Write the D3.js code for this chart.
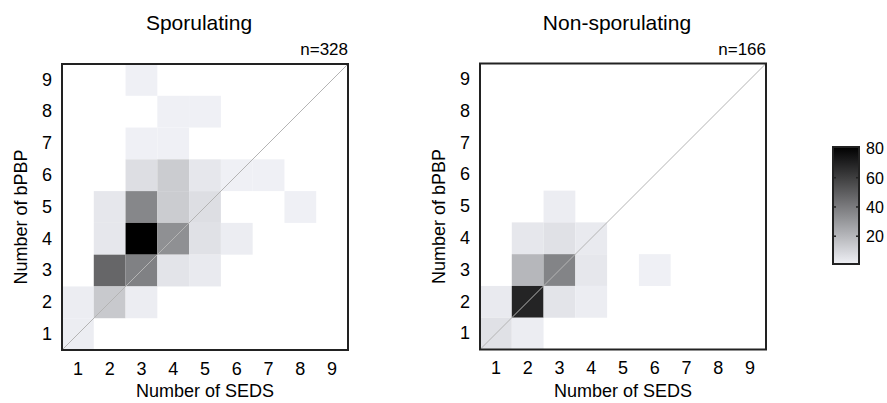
<!DOCTYPE html>
<html>
<head>
<meta charset="utf-8">
<script src="https://cdn.jsdelivr.net/npm/d3@7"></script>
<style>
  html, body { margin: 0; padding: 0; background: #fff; }
  text { font-family: "Liberation Sans", Arial, Helvetica, sans-serif; fill: #000; }
</style>
</head>
<body>
<svg id="chart" width="887" height="403"></svg>
<script>
// ---- data ----
const categories = [1, 2, 3, 4, 5, 6, 7, 8, 9];
const panelTitles = ["Sporulating", "Non-sporulating"];
const panelCounts = ["n=328", "n=166"];
const xLabel = "Number of SEDS";
const yLabel = "Number of bPBP";
// [SEDS, bPBP, count]
const sporulating = [
  [3, 9, 1],
  [4, 8, 1], [5, 8, 1],
  [3, 7, 1], [4, 7, 1],
  [3, 6, 7], [4, 6, 13], [5, 6, 4], [6, 6, 1], [7, 6, 1],
  [2, 5, 4], [3, 5, 36], [4, 5, 13], [5, 5, 7], [8, 5, 1],
  [2, 4, 4], [3, 4, 81], [4, 4, 33], [5, 4, 6], [6, 4, 2],
  [2, 3, 47], [3, 3, 38], [4, 3, 5], [5, 3, 3],
  [1, 2, 2], [2, 2, 14], [3, 2, 2],
  [1, 1, 2]
];
const nonSporulating = [
  [3, 5, 2],
  [2, 4, 4], [3, 4, 6], [4, 4, 3],
  [2, 3, 20], [3, 3, 37], [4, 3, 4], [6, 3, 1],
  [1, 2, 3], [2, 2, 69], [3, 2, 5], [4, 2, 2],
  [1, 1, 6], [2, 1, 2]
];
const colorTicks = [20, 40, 60, 80];
const colorDomain = [1, 81];

// ---- drawing ----
const svg = d3.select("#chart");
const color = d3.scaleLinear().domain(colorDomain).range(["#eff0f5", "#000000"]).clamp(true);

const panels = [
  { data: sporulating, left: 62, top: 64, size: 286, title: panelTitles[0], n: panelCounts[0] },
  { data: nonSporulating, left: 480, top: 63.5, size: 286, title: panelTitles[1], n: panelCounts[1] }
];

panels.forEach(p => {
  const g = svg.append("g").attr("transform", `translate(${p.left},${p.top})`);
  const x = d3.scaleBand().domain(categories).range([0, p.size]);
  const y = d3.scaleBand().domain(categories).range([p.size, 0]);

  g.selectAll("rect.cell").data(p.data).enter().append("rect")
    .attr("class", "cell")
    .attr("x", d => x(d[0]))
    .attr("y", d => y(d[1]))
    .attr("width", x.bandwidth())
    .attr("height", y.bandwidth())
    .attr("fill", d => color(d[2]));

  // diagonal
  const lin = d3.scaleLinear().domain([0.5, 9.5]).range([0, p.size]);
  const linY = d3.scaleLinear().domain([0.5, 9.5]).range([p.size, 0]);
  g.append("line")
    .attr("x1", lin(0.5)).attr("y1", linY(0.5))
    .attr("x2", lin(9.5)).attr("y2", linY(9.5))
    .attr("stroke", "#b4b4b4").attr("stroke-width", 1);

  // border
  g.append("rect").attr("x", 0).attr("y", 0).attr("width", p.size).attr("height", p.size)
    .attr("fill", "none").attr("stroke", "#222").attr("stroke-width", 2);

  // axes (no tick lines)
  const xa = g.append("g").attr("transform", `translate(0,${p.size})`)
    .call(d3.axisBottom(x).tickSize(0).tickPadding(12));
  const ya = g.append("g").call(d3.axisLeft(y).tickSize(0).tickPadding(10));
  [xa, ya].forEach(a => {
    a.select(".domain").remove();
    a.selectAll("text").style("font-size", "18px").style("font-family", "'Liberation Sans', Arial, sans-serif").attr("fill", "#000");
  });

  g.append("text").attr("x", p.size / 2).attr("y", p.size + 47)
    .attr("text-anchor", "middle").style("font-size", "18px").text(xLabel);
  g.append("text").attr("transform", `translate(-35,${p.size / 2 + 10}) rotate(-90)`)
    .attr("text-anchor", "middle").style("font-size", "18px").text(yLabel);
  g.append("text").attr("x", p.size / 2 - 6).attr("y", -34)
    .attr("text-anchor", "middle").style("font-size", "21px").text(p.title);
  g.append("text").attr("x", p.size).attr("y", -9)
    .attr("text-anchor", "end").style("font-size", "17px").text(p.n);
});

// colorbar
const cb = { left: 833, top: 147, width: 26, height: 117 };
const defs = svg.append("defs");
const grad = defs.append("linearGradient").attr("id", "cbgrad")
  .attr("x1", 0).attr("y1", 1).attr("x2", 0).attr("y2", 0);
d3.range(0, 1.0001, 0.1).forEach(t => {
  const v = colorDomain[0] + t * (colorDomain[1] - colorDomain[0]);
  grad.append("stop").attr("offset", t).attr("stop-color", color(v));
});
const cy = d3.scaleLinear().domain(colorDomain).range([cb.top + cb.height, cb.top]);
const cbg = svg.append("g");
cbg.append("rect").attr("x", cb.left).attr("y", cb.top).attr("width", cb.width).attr("height", cb.height)
  .attr("fill", "url(#cbgrad)");
colorTicks.forEach(t => {
  if (t < 80) {
    cbg.append("line").attr("x1", cb.left).attr("x2", cb.left + 3).attr("y1", cy(t)).attr("y2", cy(t))
      .attr("stroke", "#222").attr("stroke-width", 1.5);
    cbg.append("line").attr("x1", cb.left + cb.width - 3).attr("x2", cb.left + cb.width).attr("y1", cy(t)).attr("y2", cy(t))
      .attr("stroke", "#222").attr("stroke-width", 1.5);
  }
});
cbg.append("rect").attr("x", cb.left).attr("y", cb.top).attr("width", cb.width).attr("height", cb.height)
  .attr("fill", "none").attr("stroke", "#222").attr("stroke-width", 2);
cbg.selectAll("text.cbt").data(colorTicks).enter().append("text")
  .attr("class", "cbt")
  .attr("x", cb.left + cb.width + 7)
  .attr("y", d => cy(d) + 6)
  .style("font-size", "16px")
  .text(d => d);
</script>
</body>
</html>
